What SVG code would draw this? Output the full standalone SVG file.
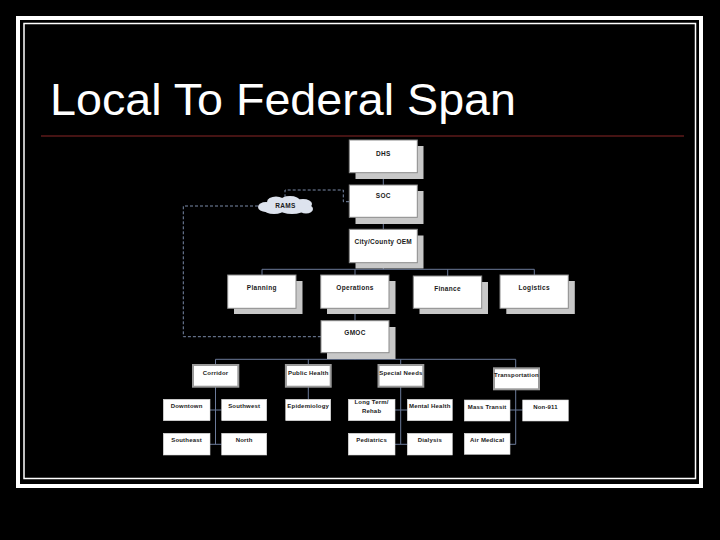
<svg xmlns="http://www.w3.org/2000/svg" width="720" height="540" viewBox="0 0 720 540">
<defs>
<style>
.bx{fill:#ffffff;stroke:#8a8a8a;stroke-width:1}
.sh{fill:#c8c8c8}
.mb{fill:#ffffff;stroke:#9a9a9a;stroke-width:2}
.lf{fill:#ffffff;stroke:#d8d8d8;stroke-width:0.6}
.t{font-family:"Liberation Sans",Arial,sans-serif;font-weight:bold;font-size:6.5px;fill:#1a1a1a;text-anchor:middle;letter-spacing:0.3px}
.s{font-family:"Liberation Sans",Arial,sans-serif;font-weight:bold;font-size:6px;fill:#1a1a1a;text-anchor:middle;letter-spacing:0.2px}
.c{fill:none;stroke:#6b7a99;stroke-width:1}
.d{fill:none;stroke:#7a8aa8;stroke-width:1;stroke-dasharray:3 2}
</style>
</defs>
<rect x="0" y="0" width="720" height="540" fill="#000000"/>
<rect x="18" y="18" width="683" height="468" fill="none" stroke="#ffffff" stroke-width="4"/>
<rect x="24" y="23.5" width="671.5" height="455" fill="none" stroke="#ffffff" stroke-width="1.5"/>
<text x="50" y="115" font-family="'Liberation Sans',Arial,sans-serif" font-size="44" fill="#ffffff" textLength="466" lengthAdjust="spacingAndGlyphs">Local To Federal Span</text>
<line x1="41" y1="136" x2="684" y2="136" stroke="#5c1a1a" stroke-width="1.5"/>

<g id="connectors">
<path class="c" d="M383.3,172.7V185 M383.3,217.3V229.3 M383.3,262.7V269.3 M262,269.3H534.3 M262,269.3V275 M355,269.3V275 M447.7,269.3V276 M534.3,269.3V275 M355,308.3V320.7 M355,352.7V359.3 M215.5,359.3H515.7 M215.5,359.3V365 M308.3,359.3V365 M400.7,359.3V365 M515.7,359.3V368.3 M215.5,386.7V444.3 M210,410H221.7 M210,444.3H221.7 M308.3,386.7V399.3 M400.7,386.7V444.3 M395,410H407.3 M395,444.3H407.3 M515.7,389.3V444.3 M510,410H522.7 M510,444.3H515.7"/>
<path class="d" d="M349,201.7H343.3V190H285V197"/>
<path class="d" d="M258,206H183.3V336.7H321"/>
</g>

<g id="DHS"><rect class="sh" x="355.5" y="146" width="68" height="33"/><rect class="bx" x="349.3" y="140" width="68" height="32.7"/><text class="t" x="383.3" y="155.5">DHS</text></g>
<g id="SOC"><rect class="sh" x="355.5" y="191" width="68" height="33"/><rect class="bx" x="349.3" y="185" width="68" height="32.3"/><text class="t" x="383.3" y="198">SOC</text></g>
<g id="OEM"><rect class="sh" x="355.5" y="235.5" width="68" height="33"/><rect class="bx" x="349.3" y="229.3" width="68" height="33.4"/><text class="t" x="383.3" y="244">City/County OEM</text></g>
<g id="RAMS">
<g fill="#dde3ee">
<ellipse cx="266" cy="207" rx="8" ry="5"/><ellipse cx="276" cy="202" rx="9" ry="5.5"/><ellipse cx="290" cy="201" rx="10" ry="5"/><ellipse cx="303" cy="204" rx="9" ry="5"/><ellipse cx="306" cy="209" rx="7" ry="4.5"/><ellipse cx="292" cy="210" rx="12" ry="4"/><ellipse cx="274" cy="210" rx="10" ry="4"/><ellipse cx="286" cy="206" rx="20" ry="6"/>
</g>
<text class="t" x="285.5" y="207.5">RAMS</text></g>
<g id="Planning"><rect class="sh" x="234" y="281" width="68.5" height="33"/><rect class="bx" x="227.7" y="275" width="68.3" height="33.3"/><text class="t" x="261.8" y="289.5">Planning</text></g>
<g id="Operations"><rect class="sh" x="327" y="281" width="68.5" height="33"/><rect class="bx" x="320.7" y="275" width="68.3" height="33.3"/><text class="t" x="355" y="289.5">Operations</text></g>
<g id="Finance"><rect class="sh" x="419.5" y="282" width="68.5" height="32"/><rect class="bx" x="413.3" y="276" width="68.4" height="32.3"/><text class="t" x="447.5" y="290.5">Finance</text></g>
<g id="Logistics"><rect class="sh" x="506.3" y="281" width="68.5" height="33"/><rect class="bx" x="500" y="275" width="68.3" height="33.3"/><text class="t" x="534.2" y="289.5">Logistics</text></g>
<g id="GMOC"><rect class="sh" x="327" y="327" width="68.5" height="32"/><rect class="bx" x="321" y="320.7" width="68" height="32"/><text class="t" x="355" y="335.3">GMOC</text></g>

<g id="Corridor"><rect class="mb" x="193" y="365" width="45.3" height="21.7"/><text class="s" x="215.6" y="375">Corridor</text></g>
<g id="PublicHealth"><rect class="mb" x="285.9" y="365" width="44.8" height="21.7"/><text class="s" x="308.3" y="375">Public Health</text></g>
<g id="SpecialNeeds"><rect class="mb" x="378.5" y="365" width="44.8" height="21.7"/><text class="s" x="400.9" y="375">Special Needs</text></g>
<g id="Transportation"><rect class="mb" x="494" y="368.3" width="45" height="21"/><text class="s" x="516.5" y="377.3">Transportation</text></g>

<g id="Downtown"><rect class="lf" x="163.3" y="399.3" width="46.7" height="21.4"/><text class="s" x="186.6" y="408.3">Downtown</text></g>
<g id="Southwest"><rect class="lf" x="221.7" y="399.3" width="45" height="21.4"/><text class="s" x="244.2" y="408.3">Southwest</text></g>
<g id="Epidemiology"><rect class="lf" x="285.7" y="399.3" width="45" height="21.4"/><text class="s" x="308.2" y="408.3">Epidemiology</text></g>
<g id="LongTermRehab"><rect class="lf" x="348.3" y="399.3" width="46.7" height="21.4"/><text class="s" x="371.6" y="404">Long Term/</text><text class="s" x="371.6" y="413.3">Rehab</text></g>
<g id="MentalHealth"><rect class="lf" x="407.3" y="399.3" width="45" height="21.4"/><text class="s" x="429.8" y="408.3">Mental Health</text></g>
<g id="MassTransit"><rect class="lf" x="464.3" y="400" width="45.7" height="21"/><text class="s" x="487.2" y="409">Mass Transit</text></g>
<g id="Non911"><rect class="lf" x="522.7" y="400" width="45.6" height="21"/><text class="s" x="545.5" y="409">Non-911</text></g>
<g id="Southeast"><rect class="lf" x="163.3" y="433.3" width="46.7" height="21.7"/><text class="s" x="186.6" y="442.3">Southeast</text></g>
<g id="North"><rect class="lf" x="221.7" y="433.3" width="45" height="21.7"/><text class="s" x="244.2" y="442.3">North</text></g>
<g id="Pediatrics"><rect class="lf" x="348.3" y="433.3" width="46.7" height="21.7"/><text class="s" x="371.6" y="442.3">Pediatrics</text></g>
<g id="Dialysis"><rect class="lf" x="407.3" y="433.3" width="45" height="21.7"/><text class="s" x="429.8" y="442.3">Dialysis</text></g>
<g id="AirMedical"><rect class="lf" x="464.3" y="433.3" width="45.7" height="21"/><text class="s" x="487.2" y="442.3">Air Medical</text></g>
</svg>
